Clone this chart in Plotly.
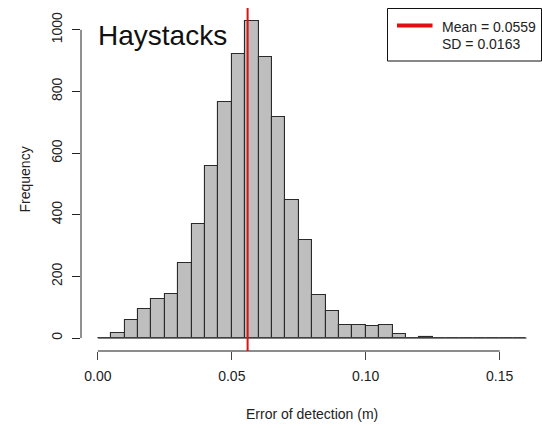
import plotly.graph_objects as go

# ---- data ----
bin_start = 0.0
bin_width = 0.005
counts = [0, 15, 57, 93, 126, 143, 243, 369, 558, 765, 922, 1029, 913, 716,
          448, 317, 140, 87, 44, 44, 38, 41, 12, 0, 4, 0, 0, 0, 0, 0, 0, 0]
mean_val = 0.0559
sd_val = 0.0163
x_ticks = [0.0, 0.05, 0.10, 0.15]
x_tick_labels = ["0.00", "0.05", "0.10", "0.15"]
y_ticks = [0, 200, 400, 600, 800, 1000]
y_tick_labels = ["0", "200", "400", "600", "800", "1000"]
title_text = "Haystacks"
x_title = "Error of detection (m)"
y_title = "Frequency"

# ---- layout geometry ----
W, H = 542, 428
L, R, T, B = 81, 0, 8, 77
PW, PH = W - L - R, H - T - B

def px_x(p):
    return (p - L) / PW

def px_y(p):
    return 1 - (p - T) / PH

centers = [bin_start + bin_width * (i + 0.5) for i in range(len(counts))]
edges_end = bin_start + bin_width * len(counts)

FONT = "Liberation Sans, Arial, sans-serif"
TXT = "#222222"

fig = go.Figure()
fig.add_trace(go.Bar(
    x=centers, y=counts, width=bin_width,
    marker=dict(color="#bebebe", line=dict(color="#2a2a2a", width=1.1)),
    showlegend=False, hoverinfo="skip",
))

shapes = [
    dict(type="line", xref="x", yref="y", x0=bin_start, x1=edges_end, y0=0, y1=0,
         line=dict(color="#555555", width=1.2)),
    dict(type="line", xref="x", yref="paper", x0=x_ticks[0], x1=x_ticks[-1], y0=0, y1=0,
         line=dict(color="#666666", width=1.5)),
    dict(type="line", xref="paper", yref="y", x0=0, x1=0, y0=y_ticks[0], y1=y_ticks[-1],
         line=dict(color="#222222", width=1)),
    dict(type="line", xref="x", yref="paper", x0=mean_val, x1=mean_val, y0=0, y1=1,
         line=dict(color="#e01010", width=2)),
    dict(type="rect", xref="paper", yref="paper", x0=px_x(387.5), x1=px_x(541.5),
         y0=px_y(61), y1=px_y(8.5), line=dict(color="#111111", width=1),
         fillcolor="white"),
    dict(type="line", xref="paper", yref="paper", x0=px_x(397), x1=px_x(432.5),
         y0=px_y(25.5), y1=px_y(25.5), line=dict(color="#e01010", width=4)),
]

annotations = [
    dict(text=title_text, xref="paper", yref="paper", x=px_x(95.5), y=px_y(35),
         xanchor="left", yanchor="middle", showarrow=False,
         font=dict(family=FONT, size=28, color="#111111")),
    dict(text=f"Mean = {mean_val}", xref="paper", yref="paper", x=px_x(440), y=px_y(26.5),
         xanchor="left", yanchor="middle", showarrow=False,
         font=dict(family=FONT, size=14, color=TXT)),
    dict(text=f"SD = {sd_val}", xref="paper", yref="paper", x=px_x(440), y=px_y(44),
         xanchor="left", yanchor="middle", showarrow=False,
         font=dict(family=FONT, size=14, color=TXT)),
    dict(text=x_title, xref="paper", yref="paper", x=0.5, y=px_y(414),
         xanchor="center", yanchor="middle", showarrow=False,
         font=dict(family=FONT, size=14, color=TXT)),
    dict(text=y_title, xref="paper", yref="paper", x=px_x(24), y=0.5,
         xanchor="center", yanchor="middle", showarrow=False, textangle=-90,
         font=dict(family=FONT, size=14, color=TXT)),
]

fig.update_layout(
    width=W, height=H,
    margin=dict(l=L, r=R, t=T, b=B, pad=0),
    paper_bgcolor="white", plot_bgcolor="white",
    shapes=shapes, annotations=annotations,
    bargap=0,
    font=dict(family=FONT, size=14, color=TXT),
    xaxis=dict(range=[-0.0063, 0.1658], tickvals=x_ticks, ticktext=x_tick_labels,
               ticks="outside", ticklen=8, tickwidth=1, tickcolor="#444444",
               showgrid=False, zeroline=False, showline=False,
               ticklabelstandoff=4, tickfont=dict(family=FONT, size=14, color=TXT)),
    yaxis=dict(range=[-42, 1071], tickvals=y_ticks, ticktext=y_tick_labels,
               ticks="outside", ticklen=8, tickwidth=1, tickcolor="#222222",
               showgrid=False, zeroline=False, showline=False, tickangle=-90,
               ticklabelstandoff=4, tickfont=dict(family=FONT, size=14, color=TXT)),
)

fig.write_html("out.html")
